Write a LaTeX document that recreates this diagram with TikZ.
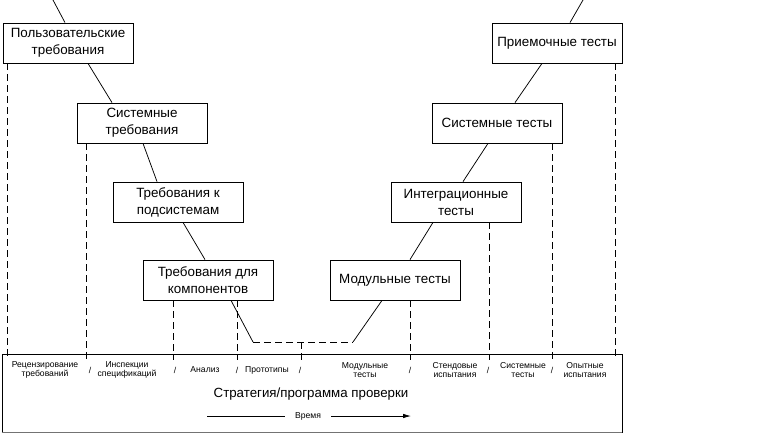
\documentclass[tikz,border=0pt]{standalone}
\usepackage{fontspec}
\setmainfont{Liberation Sans}
\usepackage{tikz}
\usetikzlibrary{calc,arrows.meta}

\begin{document}
\begin{tikzpicture}[x=1pt, y=-1pt,
		stage/.style={draw, line width=0.8pt, minimum width=130pt, minimum height=40pt, inner sep=0pt, align=center, font=\fontsize{13.4}{17}\selectfont},
		guide/.style={line width=0.8pt, dash pattern=on 7pt off 4pt},
		link/.style={line width=0.75pt},
		lbl/.style={align=center, inner sep=0pt, font=\fontsize{8.6}{9.5}\selectfont},
		sep/.style={inner sep=0pt, font=\fontsize{8.6}{9.5}\selectfont}]
			%%%%% START %%%%%
			
			\useasboundingbox (0, 0) rectangle (781, 436);
			
			\node[stage] (b1) at (68, 43) {Пользовательские\\требования};
			\node[stage] (b2) at (142, 123) {Системные\\требования};
			\node[stage] (b3) at (178, 202) {Требования к\\подсистемам};
			\node[stage] (b4) at (208, 280) {Требования для\\компонентов};
			
			\node[stage] (b5) at (395, 280) {Модульные тесты};
			\node[stage] (b6) at (456, 202) {Интеграционные\\тесты};
			\node[stage] (b7) at (497, 123) {Системные тесты};
			\node[stage] (b8) at (557, 43) {Приемочные тесты};
			
			\coordinate (tl) at (53, 0);
			\coordinate (tr) at (583, 0);
			\coordinate (vl) at (253, 342);
			\coordinate (vr) at (353, 342);
			\coordinate (vm) at (301, 342);
			\coordinate (stop) at (0, 360);
			
			% left branch
			\draw[link] (tl) -- ([xshift=-3pt]b1.north);
			\draw[link] ([xshift=20pt]b1.south) -- ([xshift=-30pt]b2.north);
			\draw[link] ([xshift=1pt]b2.south) -- ([xshift=-21pt]b3.north);
			\draw[link] ([xshift=5pt]b3.south) -- ([xshift=-3pt]b4.north);
			\draw[link] ([xshift=23pt]b4.south) -- (vl);
			\draw[guide] (vl) -- (vr);
			
			% right branch
			\draw[link] (vr) -- ([xshift=-13pt]b5.south);
			\draw[link] ([xshift=15pt]b5.north) -- ([xshift=-23pt]b6.south);
			\draw[link] ([xshift=7pt]b6.north) -- ([xshift=-9pt]b7.south);
			\draw[link] ([xshift=18pt]b7.north) -- ([xshift=-15pt]b8.south);
			\draw[link] ([xshift=13pt]b8.north) -- (tr);
			
			% strip
			\node[draw, line width=0.8pt, minimum width=620pt, minimum height=78pt, inner sep=0pt] (strip) at (312, 393) {};
			\draw[line width=1.6pt, color=black!55] (strip.south west) -- (strip.south east);
			
			\draw[guide] ([xshift=5pt]b1.south west) -- ([xshift=5pt]b1.south west |- stop);
			\draw[guide] ([xshift=10pt]b2.south west) -- ([xshift=10pt]b2.south west |- stop);
			\draw[guide] ([xshift=31pt]b4.south west) -- ([xshift=31pt]b4.south west |- stop);
			\draw[guide] ([xshift=-36pt]b4.south east) -- ([xshift=-36pt]b4.south east |- stop);
			\draw[guide] (vm) -- (vm |- stop);
			\draw[guide] ([xshift=-50pt]b5.south east) -- ([xshift=-50pt]b5.south east |- stop);
			\draw[guide] ([xshift=-32pt]b6.south east) -- ([xshift=-32pt]b6.south east |- stop);
			\draw[guide] ([xshift=-10pt]b7.south east) -- ([xshift=-10pt]b7.south east |- stop);
			\draw[guide] ([xshift=-7pt]b8.south east) -- ([xshift=-7pt]b8.south east |- stop);
			
			\node[lbl] (l1) at (45, 370) {Рецензирование\\требований};
			\node[lbl] (l2) at (127, 370) {Инспекции\\спецификаций};
			\node[lbl] (l3) at (205, 370) {Анализ};
			\node[lbl] (l4) at (267, 370) {Прототипы};
			\node[lbl] (l5) at (365, 370) {Модульные\\тесты};
			\node[lbl] (l6) at (455, 370) {Стендовые\\испытания};
			\node[lbl] (l7) at (523, 370) {Системные\\тесты};
			\node[lbl] (l8) at (585, 370) {Опытные\\испытания};
			
			\foreach \sx in {90, 175, 237, 300, 410, 488, 552}
				\node[sep] at (\sx, 370) {/};
			
			\node[font=\fontsize{13.3}{15}\selectfont, inner sep=0pt] (plan) at (311, 394) {Стратегия/программа проверки};
			\node[sep] (time) at (308, 416) {Время};
			\coordinate (al) at (207, 416);
			\coordinate (ar) at (411, 416);
			\draw[link] (al) -- ([xshift=-10pt]time.west);
			\draw[link, -{Latex[length=8pt, width=4.5pt]}] ([xshift=10pt]time.east) -- (ar);
			
			%%%%% END %%%%%
		\end{tikzpicture}
\end{document}
